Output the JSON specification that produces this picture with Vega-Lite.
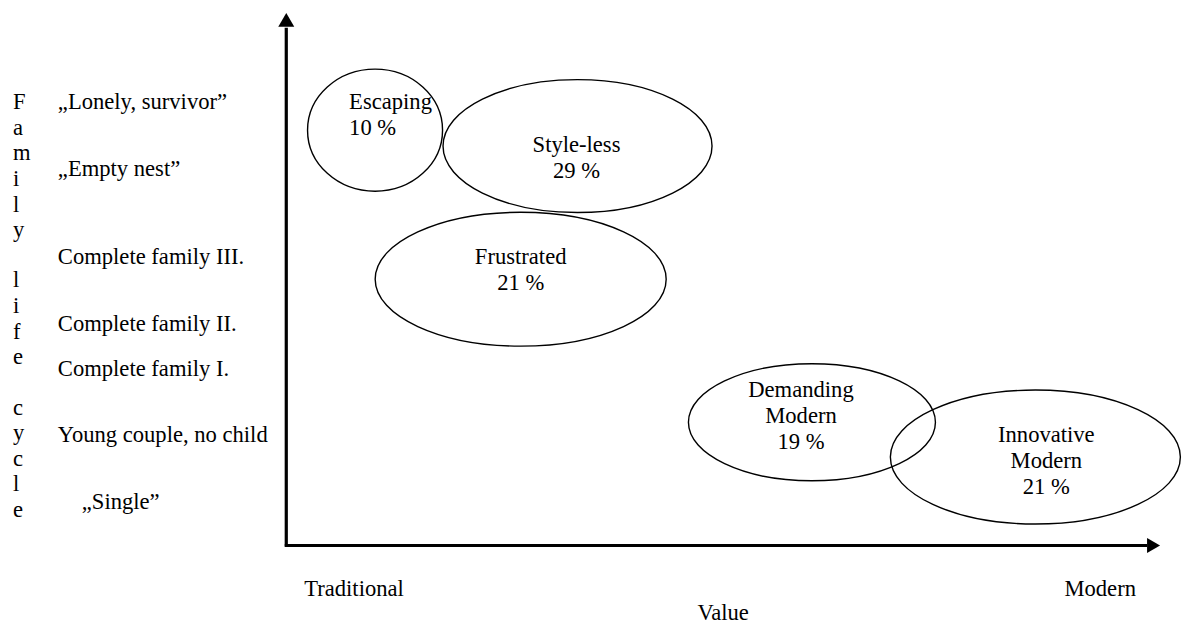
{
  "$schema": "https://vega.github.io/schema/vega-lite/v6.json",
  "width": 1183,
  "height": 625,
  "autosize": {"type": "fit", "contains": "padding"},
  "padding": 0,
  "background": "white",
  "config": {"view": {"stroke": null}, "font": "Liberation Serif"},
  "datasets": {
    "segments": [
      {"segment": "Escaping", "share": 10, "x": 8.9, "y": 41.8, "width": 13.5},
      {"segment": "Style-less", "share": 29, "x": 29.2, "y": 40.2, "width": 26.9},
      {"segment": "Frustrated", "share": 21, "x": 23.5, "y": 26.8, "width": 29.1},
      {"segment": "Demanding Modern", "share": 19, "x": 52.7, "y": 12.4, "width": 24.7},
      {"segment": "Innovative Modern", "share": 21, "x": 75.1, "y": 8.9, "width": 29.0}
    ],
    "axes": [
      {"axis": "Family life cycle", "x": 0, "y": -0.1, "x2": 0, "y2": 52.1},
      {"axis": "Value", "x": -0.15, "y": 0, "x2": 86.3, "y2": 0}
    ],
    "leftLabels": [
      {"text": "F\na\nm\ni\nl\ny", "x": -27.4, "y": 43.9},
      {"text": "l\ni\nf\ne", "x": -27.4, "y": 25.98},
      {"text": "c\ny\nc\nl\ne", "x": -27.4, "y": 13.18},
      {"text": "„Lonely, survivor”", "x": -22.9, "y": 43.9},
      {"text": "„Empty nest”", "x": -22.9, "y": 37.2},
      {"text": "Complete family III.", "x": -22.9, "y": 28.3},
      {"text": "Complete family II.", "x": -22.9, "y": 21.6},
      {"text": "Complete family I.", "x": -22.9, "y": 17.1},
      {"text": "Young couple, no child", "x": -22.9, "y": 10.4},
      {"text": "„Single”", "x": -20.5, "y": 3.7},
      {"text": "Escaping\n10 %", "x": 6.3, "y": 43.9},
      {"text": "Traditional", "x": 1.8, "y": -5.1}
    ],
    "centerLabels": [
      {"text": "Style-less\n29 %", "x": 29.1, "y": 39.6},
      {"text": "Frustrated\n21 %", "x": 23.5, "y": 28.3},
      {"text": "Demanding\nModern\n19 %", "x": 51.6, "y": 14.9},
      {"text": "Innovative\nModern\n21 %", "x": 76.2, "y": 10.4},
      {"text": "Value", "x": 43.8, "y": -7.5},
      {"text": "Modern", "x": 81.6, "y": -5.1}
    ]
  },
  "layer": [
    {
      "data": {"name": "axes"},
      "mark": {"type": "rule", "color": "black", "strokeWidth": 3.2},
      "encoding": {
        "x": {"field": "x", "type": "quantitative", "scale": {"domain": [-28.7, 89.6], "nice": false, "zero": false}, "axis": null},
        "y": {"field": "y", "type": "quantitative", "scale": {"domain": [-7.6, 54.9], "nice": false, "zero": false}, "axis": null},
        "x2": {"field": "x2"},
        "y2": {"field": "y2"}
      }
    },
    {
      "data": {"values": [{"axis": "Family life cycle", "x": 0, "y": 52.9}]},
      "mark": {"type": "point", "shape": "triangle-up", "filled": true, "color": "black", "opacity": 1, "size": 256},
      "encoding": {
        "x": {"field": "x", "type": "quantitative", "scale": {"domain": [-28.7, 89.6], "nice": false, "zero": false}, "axis": null},
        "y": {"field": "y", "type": "quantitative", "scale": {"domain": [-7.6, 54.9], "nice": false, "zero": false}, "axis": null}
      }
    },
    {
      "data": {"values": [{"axis": "Value", "x": 86.95, "y": 0}]},
      "mark": {"type": "point", "shape": "triangle-right", "filled": true, "color": "black", "opacity": 1, "size": 225},
      "encoding": {
        "x": {"field": "x", "type": "quantitative", "scale": {"domain": [-28.7, 89.6], "nice": false, "zero": false}, "axis": null},
        "y": {"field": "y", "type": "quantitative", "scale": {"domain": [-7.6, 54.9], "nice": false, "zero": false}, "axis": null}
      }
    },
    {
      "data": {"name": "segments"},
      "mark": {"type": "point", "filled": false, "color": "black", "strokeWidth": 1.4, "opacity": 1},
      "encoding": {
        "x": {"field": "x", "type": "quantitative", "scale": {"domain": [-28.7, 89.6], "nice": false, "zero": false}, "axis": null},
        "y": {"field": "y", "type": "quantitative", "scale": {"domain": [-7.6, 54.9], "nice": false, "zero": false}, "axis": null},
        "size": {"field": "width", "type": "quantitative", "scale": {"type": "pow", "exponent": 2, "domain": [0, 100], "range": [0, 1000000]}, "legend": null},
        "shape": {
          "field": "segment",
          "type": "nominal",
          "legend": null,
          "scale": {
            "domain": ["Escaping", "Style-less", "Frustrated", "Demanding Modern", "Innovative Modern"],
            "range": [
              "M-1,0C-1,-0.4993,-0.5523,-0.904,0,-0.904C0.5523,-0.904,1,-0.4993,1,0C1,0.4993,0.5523,0.904,0,0.904C-0.5523,0.904,-1,0.4993,-1,0Z",
              "M-1,0C-1,-0.2728,-0.5523,-0.494,0,-0.494C0.5523,-0.494,1,-0.2728,1,0C1,0.2728,0.5523,0.494,0,0.494C-0.5523,0.494,-1,0.2728,-1,0Z",
              "M-1,0C-1,-0.2541,-0.5523,-0.46,0,-0.46C0.5523,-0.46,1,-0.2541,1,0C1,0.2541,0.5523,0.46,0,0.46C-0.5523,0.46,-1,0.2541,-1,0Z",
              "M-1,0C-1,-0.2618,-0.5523,-0.474,0,-0.474C0.5523,-0.474,1,-0.2618,1,0C1,0.2618,0.5523,0.474,0,0.474C-0.5523,0.474,-1,0.2618,-1,0Z",
              "M-1,0C-1,-0.2552,-0.5523,-0.462,0,-0.462C0.5523,-0.462,1,-0.2552,1,0C1,0.2552,0.5523,0.462,0,0.462C-0.5523,0.462,-1,0.2552,-1,0Z"
            ]
          }
        }
      }
    },
    {
      "data": {"name": "leftLabels"},
      "mark": {"type": "text", "align": "left", "baseline": "alphabetic", "fontSize": 22.6, "font": "Liberation Serif", "color": "black", "lineBreak": "\n", "lineHeight": 25.6},
      "encoding": {
        "x": {"field": "x", "type": "quantitative", "scale": {"domain": [-28.7, 89.6], "nice": false, "zero": false}, "axis": null},
        "y": {"field": "y", "type": "quantitative", "scale": {"domain": [-7.6, 54.9], "nice": false, "zero": false}, "axis": null},
        "text": {"field": "text"}
      }
    },
    {
      "data": {"name": "centerLabels"},
      "mark": {"type": "text", "align": "center", "baseline": "alphabetic", "fontSize": 22.6, "font": "Liberation Serif", "color": "black", "lineBreak": "\n", "lineHeight": 26},
      "encoding": {
        "x": {"field": "x", "type": "quantitative", "scale": {"domain": [-28.7, 89.6], "nice": false, "zero": false}, "axis": null},
        "y": {"field": "y", "type": "quantitative", "scale": {"domain": [-7.6, 54.9], "nice": false, "zero": false}, "axis": null},
        "text": {"field": "text"}
      }
    }
  ]
}
